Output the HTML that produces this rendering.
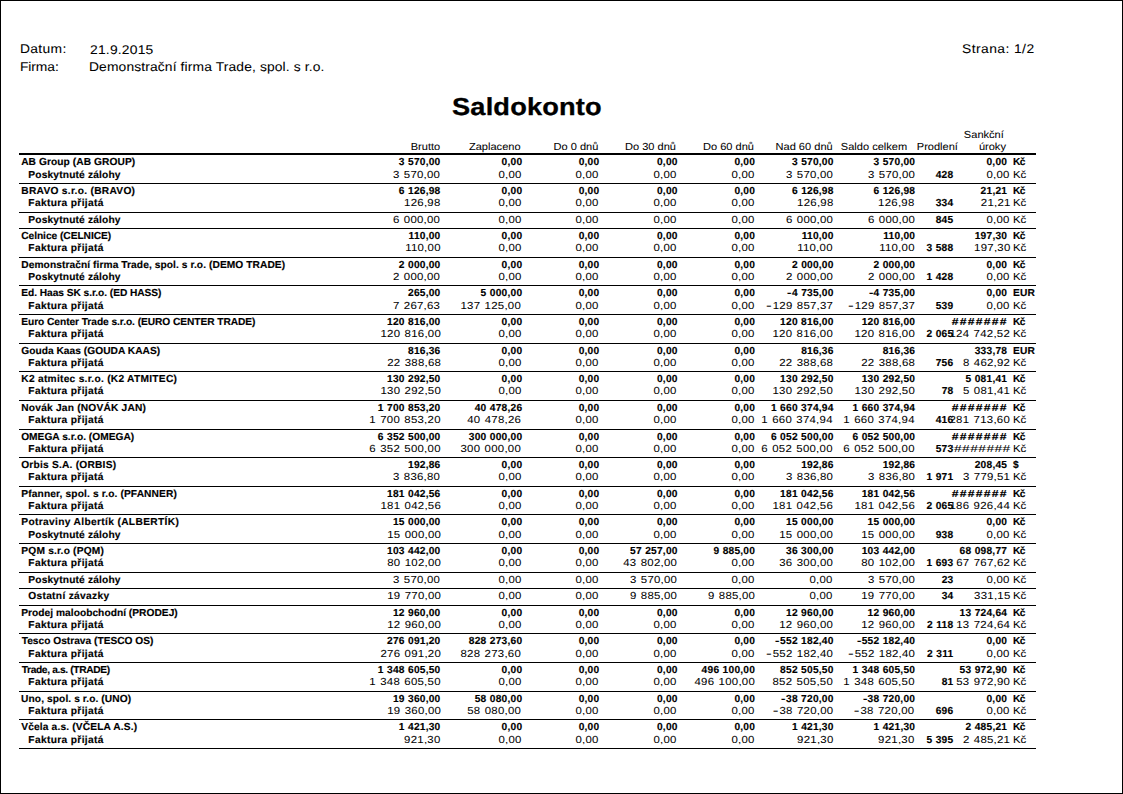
<!DOCTYPE html>
<html lang="cs"><head><meta charset="utf-8"><title>Saldokonto</title>
<style>
html,body{margin:0;padding:0;background:#fff}
body{text-rendering:geometricPrecision;width:1123px;height:794px;position:relative;overflow:hidden;font-family:"Liberation Sans",sans-serif;color:#000}
#pg{position:absolute;left:0;top:0;width:1121px;height:792px;border:1px solid #000}
span{position:absolute;white-space:pre;display:block}
.rn,.ch,.ph{-webkit-text-stroke:0.05px #000}
.tt{-webkit-text-stroke:0.3px #000}
.bl,.bn{-webkit-text-stroke:0.15px #000}
em{font-style:normal;display:inline-block;transform:scaleX(1.5);transform-origin:100% 50%;margin:0 .5px 0 1.1px}
.bn em{transform:scaleX(1.3);margin:0 .3px 0 .1px}
.L{transform-origin:0 50%}
.R{transform-origin:100% 50%}
i{position:absolute;left:19px;width:1017px;height:1px;background:#000;display:block}
i.k{height:2px}
#clip{position:absolute;left:951.5px;top:150px;width:60.5px;height:610px;overflow:hidden}
.bl{font-size:10.2px;font-weight:bold;line-height:12px;letter-spacing:0.08px;}
.bn{font-size:10.2px;font-weight:bold;line-height:12px;letter-spacing:0.22px;word-spacing:0.3px;}
.rn{font-size:10.2px;font-weight:normal;line-height:12px;letter-spacing:0.22px;word-spacing:0.8px;transform:scaleX(1.12)}
.ch{font-size:10.2px;font-weight:normal;line-height:12px;letter-spacing:0px;transform:scaleX(1.085)}
.ph{font-size:12.6px;font-weight:normal;line-height:16px;letter-spacing:0.1px;transform:scaleX(1.1)}
.tt{font-size:24.5px;font-weight:bold;line-height:30px;letter-spacing:0px;transform:scaleX(1.11)}
</style></head><body>
<div id="pg"></div>
<i class=k style="top:153px"></i>
<i style="top:183px"></i>
<i style="top:212px"></i>
<i style="top:228px"></i>
<i style="top:257px"></i>
<i style="top:285px"></i>
<i style="top:314px"></i>
<i style="top:343px"></i>
<i style="top:371px"></i>
<i style="top:400px"></i>
<i style="top:429px"></i>
<i style="top:457px"></i>
<i style="top:486px"></i>
<i style="top:514px"></i>
<i style="top:543px"></i>
<i style="top:572px"></i>
<i style="top:588px"></i>
<i style="top:605px"></i>
<i style="top:633px"></i>
<i style="top:662px"></i>
<i style="top:691px"></i>
<i style="top:719px"></i>
<i style="top:748px"></i>
<span class="ph L" style="left:19.6px;top:41px;letter-spacing:0.297px">Datum:</span>
<span class="ph L" style="left:90.3px;top:42px;letter-spacing:0.190px">21.9.2015</span>
<span class="ph L" style="left:19.6px;top:59px;letter-spacing:-0.085px">Firma:</span>
<span class="ph L" style="left:88.6px;top:59px;letter-spacing:0.107px">Demonstrační firma Trade, spol. s r.o.</span>
<span class="ph L" style="left:961.6px;top:41px;letter-spacing:0.394px">Strana: 1/2</span>
<span class="tt L" style="left:452.4px;top:93px;letter-spacing:0.164px">Saldokonto</span>
<span class="ch R" style="right:682.8px;top:142px">Brutto</span>
<span class="ch R" style="right:602.0px;top:142px">Zaplaceno</span>
<span class="ch R" style="right:525.0px;top:142px">Do 0 dnů</span>
<span class="ch R" style="right:446.5px;top:142px">Do 30 dnů</span>
<span class="ch R" style="right:368.5px;top:142px">Do 60 dnů</span>
<span class="ch R" style="right:290.7px;top:142px">Nad 60 dnů</span>
<span class="ch R" style="right:215.4px;top:142px">Saldo celkem</span>
<span class="ch R" style="right:165.2px;top:142px">Prodlení</span>
<span class="ch R" style="right:119.1px;top:130px">Sankční</span>
<span class="ch R" style="right:116.6px;top:142px">úroky</span>
<span class="bl L" style="left:21.2px;top:157px;letter-spacing:0.074px">AB Group (AB GROUP)</span>
<span class="bn R" style="right:682.5px;top:157px">3 570,00</span>
<span class="bn R" style="right:600.7px;top:157px">0,00</span>
<span class="bn R" style="right:523.6px;top:157px">0,00</span>
<span class="bn R" style="right:445.3px;top:157px">0,00</span>
<span class="bn R" style="right:367.9px;top:157px">0,00</span>
<span class="bn R" style="right:289.4px;top:157px">3 570,00</span>
<span class="bn R" style="right:207.8px;top:157px">3 570,00</span>
<span class="bn R" style="right:115.8px;top:157px">0,00</span>
<span class="bn L" style="left:1012.9px;top:157px;letter-spacing:-0.5px">Kč</span>
<span class="bl L" style="left:28.3px;top:170px;letter-spacing:0.172px">Poskytnuté zálohy</span>
<span class="rn R" style="right:682.4px;top:170px">3 570,00</span>
<span class="rn R" style="right:601.6px;top:170px">0,00</span>
<span class="rn R" style="right:524.7px;top:170px">0,00</span>
<span class="rn R" style="right:446.0px;top:170px">0,00</span>
<span class="rn R" style="right:368.2px;top:170px">0,00</span>
<span class="rn R" style="right:290.0px;top:170px">3 570,00</span>
<span class="rn R" style="right:208.2px;top:170px">3 570,00</span>
<span class="bn R" style="right:169.6px;top:170px">428</span>
<span class="rn L" style="left:1012.5px;top:170px;letter-spacing:-0.2px">Kč</span>
<span class="bl L" style="left:21.3px;top:186px;letter-spacing:0.284px">BRAVO s.r.o. (BRAVO)</span>
<span class="bn R" style="right:682.5px;top:186px">6 126,98</span>
<span class="bn R" style="right:600.7px;top:186px">0,00</span>
<span class="bn R" style="right:523.6px;top:186px">0,00</span>
<span class="bn R" style="right:445.3px;top:186px">0,00</span>
<span class="bn R" style="right:367.9px;top:186px">0,00</span>
<span class="bn R" style="right:289.4px;top:186px">6 126,98</span>
<span class="bn R" style="right:207.8px;top:186px">6 126,98</span>
<span class="bn R" style="right:115.8px;top:186px">21,21</span>
<span class="bn L" style="left:1012.9px;top:186px;letter-spacing:-0.5px">Kč</span>
<span class="bl L" style="left:28.3px;top:198px;letter-spacing:0.356px">Faktura přijatá</span>
<span class="rn R" style="right:682.4px;top:198px">126,98</span>
<span class="rn R" style="right:601.6px;top:198px">0,00</span>
<span class="rn R" style="right:524.7px;top:198px">0,00</span>
<span class="rn R" style="right:446.0px;top:198px">0,00</span>
<span class="rn R" style="right:368.2px;top:198px">0,00</span>
<span class="rn R" style="right:290.0px;top:198px">126,98</span>
<span class="rn R" style="right:208.2px;top:198px">126,98</span>
<span class="bn R" style="right:169.6px;top:198px">334</span>
<span class="rn L" style="left:1012.5px;top:198px;letter-spacing:-0.2px">Kč</span>
<span class="bl L" style="left:28.3px;top:215px;letter-spacing:0.172px">Poskytnuté zálohy</span>
<span class="rn R" style="right:682.4px;top:215px">6 000,00</span>
<span class="rn R" style="right:601.6px;top:215px">0,00</span>
<span class="rn R" style="right:524.7px;top:215px">0,00</span>
<span class="rn R" style="right:446.0px;top:215px">0,00</span>
<span class="rn R" style="right:368.2px;top:215px">0,00</span>
<span class="rn R" style="right:290.0px;top:215px">6 000,00</span>
<span class="rn R" style="right:208.2px;top:215px">6 000,00</span>
<span class="bn R" style="right:169.6px;top:215px">845</span>
<span class="rn L" style="left:1012.5px;top:215px;letter-spacing:-0.2px">Kč</span>
<span class="bl L" style="left:21.2px;top:231px;letter-spacing:-0.037px">Celnice (CELNICE)</span>
<span class="bn R" style="right:682.5px;top:231px">110,00</span>
<span class="bn R" style="right:600.7px;top:231px">0,00</span>
<span class="bn R" style="right:523.6px;top:231px">0,00</span>
<span class="bn R" style="right:445.3px;top:231px">0,00</span>
<span class="bn R" style="right:367.9px;top:231px">0,00</span>
<span class="bn R" style="right:289.4px;top:231px">110,00</span>
<span class="bn R" style="right:207.8px;top:231px">110,00</span>
<span class="bn R" style="right:115.8px;top:231px">197,30</span>
<span class="bn L" style="left:1012.9px;top:231px;letter-spacing:-0.5px">Kč</span>
<span class="bl L" style="left:28.3px;top:243px;letter-spacing:0.356px">Faktura přijatá</span>
<span class="rn R" style="right:682.4px;top:243px">110,00</span>
<span class="rn R" style="right:601.6px;top:243px">0,00</span>
<span class="rn R" style="right:524.7px;top:243px">0,00</span>
<span class="rn R" style="right:446.0px;top:243px">0,00</span>
<span class="rn R" style="right:368.2px;top:243px">0,00</span>
<span class="rn R" style="right:290.0px;top:243px">110,00</span>
<span class="rn R" style="right:208.2px;top:243px">110,00</span>
<span class="bn R" style="right:169.6px;top:243px">3 588</span>
<span class="rn L" style="left:1012.5px;top:243px;letter-spacing:-0.2px">Kč</span>
<span class="bl L" style="left:21.3px;top:260px;letter-spacing:0.080px">Demonstrační firma Trade, spol. s r.o. (DEMO TRADE)</span>
<span class="bn R" style="right:682.5px;top:260px">2 000,00</span>
<span class="bn R" style="right:600.7px;top:260px">0,00</span>
<span class="bn R" style="right:523.6px;top:260px">0,00</span>
<span class="bn R" style="right:445.3px;top:260px">0,00</span>
<span class="bn R" style="right:367.9px;top:260px">0,00</span>
<span class="bn R" style="right:289.4px;top:260px">2 000,00</span>
<span class="bn R" style="right:207.8px;top:260px">2 000,00</span>
<span class="bn R" style="right:115.8px;top:260px">0,00</span>
<span class="bn L" style="left:1012.9px;top:260px;letter-spacing:-0.5px">Kč</span>
<span class="bl L" style="left:28.3px;top:272px;letter-spacing:0.172px">Poskytnuté zálohy</span>
<span class="rn R" style="right:682.4px;top:272px">2 000,00</span>
<span class="rn R" style="right:601.6px;top:272px">0,00</span>
<span class="rn R" style="right:524.7px;top:272px">0,00</span>
<span class="rn R" style="right:446.0px;top:272px">0,00</span>
<span class="rn R" style="right:368.2px;top:272px">0,00</span>
<span class="rn R" style="right:290.0px;top:272px">2 000,00</span>
<span class="rn R" style="right:208.2px;top:272px">2 000,00</span>
<span class="bn R" style="right:169.6px;top:272px">1 428</span>
<span class="rn L" style="left:1012.5px;top:272px;letter-spacing:-0.2px">Kč</span>
<span class="bl L" style="left:21.3px;top:288px;letter-spacing:-0.050px">Ed. Haas SK s.r.o. (ED HASS)</span>
<span class="bn R" style="right:682.5px;top:288px">265,00</span>
<span class="bn R" style="right:600.7px;top:288px">5 000,00</span>
<span class="bn R" style="right:523.6px;top:288px">0,00</span>
<span class="bn R" style="right:445.3px;top:288px">0,00</span>
<span class="bn R" style="right:367.9px;top:288px">0,00</span>
<span class="bn R" style="right:289.4px;top:288px"><em>-</em>4 735,00</span>
<span class="bn R" style="right:207.8px;top:288px"><em>-</em>4 735,00</span>
<span class="bn R" style="right:115.8px;top:288px">0,00</span>
<span class="bn L" style="left:1012.9px;top:288px">EUR</span>
<span class="bl L" style="left:28.3px;top:301px;letter-spacing:0.356px">Faktura přijatá</span>
<span class="rn R" style="right:682.4px;top:301px">7 267,63</span>
<span class="rn R" style="right:601.6px;top:301px">137 125,00</span>
<span class="rn R" style="right:524.7px;top:301px">0,00</span>
<span class="rn R" style="right:446.0px;top:301px">0,00</span>
<span class="rn R" style="right:368.2px;top:301px">0,00</span>
<span class="rn R" style="right:290.0px;top:301px"><em>-</em>129 857,37</span>
<span class="rn R" style="right:208.2px;top:301px"><em>-</em>129 857,37</span>
<span class="bn R" style="right:169.6px;top:301px">539</span>
<span class="rn L" style="left:1012.5px;top:301px;letter-spacing:-0.2px">Kč</span>
<span class="bl L" style="left:21.3px;top:317px;letter-spacing:-0.056px">Euro Center Trade s.r.o. (EURO CENTER TRADE)</span>
<span class="bn R" style="right:682.5px;top:317px">120 816,00</span>
<span class="bn R" style="right:600.7px;top:317px">0,00</span>
<span class="bn R" style="right:523.6px;top:317px">0,00</span>
<span class="bn R" style="right:445.3px;top:317px">0,00</span>
<span class="bn R" style="right:367.9px;top:317px">0,00</span>
<span class="bn R" style="right:289.4px;top:317px">120 816,00</span>
<span class="bn R" style="right:207.8px;top:317px">120 816,00</span>
<span class="bn R" style="right:115.0px;top:317px;letter-spacing:1.0px;transform:scaleX(1.2)">#######</span>
<span class="bn L" style="left:1012.9px;top:317px;letter-spacing:-0.5px">Kč</span>
<span class="bl L" style="left:28.3px;top:329px;letter-spacing:0.356px">Faktura přijatá</span>
<span class="rn R" style="right:682.4px;top:329px">120 816,00</span>
<span class="rn R" style="right:601.6px;top:329px">0,00</span>
<span class="rn R" style="right:524.7px;top:329px">0,00</span>
<span class="rn R" style="right:446.0px;top:329px">0,00</span>
<span class="rn R" style="right:368.2px;top:329px">0,00</span>
<span class="rn R" style="right:290.0px;top:329px">120 816,00</span>
<span class="rn R" style="right:208.2px;top:329px">120 816,00</span>
<span class="bn R" style="right:169.6px;top:329px">2 065</span>
<span class="rn L" style="left:1012.5px;top:329px;letter-spacing:-0.2px">Kč</span>
<span class="bl L" style="left:21.2px;top:346px;letter-spacing:0.032px">Gouda Kaas (GOUDA KAAS)</span>
<span class="bn R" style="right:682.5px;top:346px">816,36</span>
<span class="bn R" style="right:600.7px;top:346px">0,00</span>
<span class="bn R" style="right:523.6px;top:346px">0,00</span>
<span class="bn R" style="right:445.3px;top:346px">0,00</span>
<span class="bn R" style="right:367.9px;top:346px">0,00</span>
<span class="bn R" style="right:289.4px;top:346px">816,36</span>
<span class="bn R" style="right:207.8px;top:346px">816,36</span>
<span class="bn R" style="right:115.8px;top:346px">333,78</span>
<span class="bn L" style="left:1012.9px;top:346px">EUR</span>
<span class="bl L" style="left:28.3px;top:358px;letter-spacing:0.356px">Faktura přijatá</span>
<span class="rn R" style="right:682.4px;top:358px">22 388,68</span>
<span class="rn R" style="right:601.6px;top:358px">0,00</span>
<span class="rn R" style="right:524.7px;top:358px">0,00</span>
<span class="rn R" style="right:446.0px;top:358px">0,00</span>
<span class="rn R" style="right:368.2px;top:358px">0,00</span>
<span class="rn R" style="right:290.0px;top:358px">22 388,68</span>
<span class="rn R" style="right:208.2px;top:358px">22 388,68</span>
<span class="bn R" style="right:169.6px;top:358px">756</span>
<span class="rn L" style="left:1012.5px;top:358px;letter-spacing:-0.2px">Kč</span>
<span class="bl L" style="left:21.3px;top:374px;letter-spacing:0.271px">K2 atmitec s.r.o. (K2 ATMITEC)</span>
<span class="bn R" style="right:682.5px;top:374px">130 292,50</span>
<span class="bn R" style="right:600.7px;top:374px">0,00</span>
<span class="bn R" style="right:523.6px;top:374px">0,00</span>
<span class="bn R" style="right:445.3px;top:374px">0,00</span>
<span class="bn R" style="right:367.9px;top:374px">0,00</span>
<span class="bn R" style="right:289.4px;top:374px">130 292,50</span>
<span class="bn R" style="right:207.8px;top:374px">130 292,50</span>
<span class="bn R" style="right:115.8px;top:374px">5 081,41</span>
<span class="bn L" style="left:1012.9px;top:374px;letter-spacing:-0.5px">Kč</span>
<span class="bl L" style="left:28.3px;top:386px;letter-spacing:0.356px">Faktura přijatá</span>
<span class="rn R" style="right:682.4px;top:386px">130 292,50</span>
<span class="rn R" style="right:601.6px;top:386px">0,00</span>
<span class="rn R" style="right:524.7px;top:386px">0,00</span>
<span class="rn R" style="right:446.0px;top:386px">0,00</span>
<span class="rn R" style="right:368.2px;top:386px">0,00</span>
<span class="rn R" style="right:290.0px;top:386px">130 292,50</span>
<span class="rn R" style="right:208.2px;top:386px">130 292,50</span>
<span class="bn R" style="right:169.6px;top:386px">78</span>
<span class="rn L" style="left:1012.5px;top:386px;letter-spacing:-0.2px">Kč</span>
<span class="bl L" style="left:21.3px;top:403px;letter-spacing:0.204px">Novák Jan (NOVÁK JAN)</span>
<span class="bn R" style="right:682.5px;top:403px">1 700 853,20</span>
<span class="bn R" style="right:600.7px;top:403px">40 478,26</span>
<span class="bn R" style="right:523.6px;top:403px">0,00</span>
<span class="bn R" style="right:445.3px;top:403px">0,00</span>
<span class="bn R" style="right:367.9px;top:403px">0,00</span>
<span class="bn R" style="right:289.4px;top:403px">1 660 374,94</span>
<span class="bn R" style="right:207.8px;top:403px">1 660 374,94</span>
<span class="bn R" style="right:115.0px;top:403px;letter-spacing:1.0px;transform:scaleX(1.2)">#######</span>
<span class="bn L" style="left:1012.9px;top:403px;letter-spacing:-0.5px">Kč</span>
<span class="bl L" style="left:28.3px;top:415px;letter-spacing:0.356px">Faktura přijatá</span>
<span class="rn R" style="right:682.4px;top:415px">1 700 853,20</span>
<span class="rn R" style="right:601.6px;top:415px">40 478,26</span>
<span class="rn R" style="right:524.7px;top:415px">0,00</span>
<span class="rn R" style="right:446.0px;top:415px">0,00</span>
<span class="rn R" style="right:368.2px;top:415px">0,00</span>
<span class="rn R" style="right:290.0px;top:415px">1 660 374,94</span>
<span class="rn R" style="right:208.2px;top:415px">1 660 374,94</span>
<span class="bn R" style="right:169.6px;top:415px">416</span>
<span class="rn L" style="left:1012.5px;top:415px;letter-spacing:-0.2px">Kč</span>
<span class="bl L" style="left:21.2px;top:432px;letter-spacing:0.010px">OMEGA s.r.o. (OMEGA)</span>
<span class="bn R" style="right:682.5px;top:432px">6 352 500,00</span>
<span class="bn R" style="right:600.7px;top:432px">300 000,00</span>
<span class="bn R" style="right:523.6px;top:432px">0,00</span>
<span class="bn R" style="right:445.3px;top:432px">0,00</span>
<span class="bn R" style="right:367.9px;top:432px">0,00</span>
<span class="bn R" style="right:289.4px;top:432px">6 052 500,00</span>
<span class="bn R" style="right:207.8px;top:432px">6 052 500,00</span>
<span class="bn R" style="right:115.0px;top:432px;letter-spacing:1.0px;transform:scaleX(1.2)">#######</span>
<span class="bn L" style="left:1012.9px;top:432px;letter-spacing:-0.5px">Kč</span>
<span class="bl L" style="left:28.3px;top:444px;letter-spacing:0.356px">Faktura přijatá</span>
<span class="rn R" style="right:682.4px;top:444px">6 352 500,00</span>
<span class="rn R" style="right:601.6px;top:444px">300 000,00</span>
<span class="rn R" style="right:524.7px;top:444px">0,00</span>
<span class="rn R" style="right:446.0px;top:444px">0,00</span>
<span class="rn R" style="right:368.2px;top:444px">0,00</span>
<span class="rn R" style="right:290.0px;top:444px">6 052 500,00</span>
<span class="rn R" style="right:208.2px;top:444px">6 052 500,00</span>
<span class="bn R" style="right:169.6px;top:444px">573</span>
<span class="rn L" style="left:1012.5px;top:444px;letter-spacing:-0.2px">Kč</span>
<span class="bl L" style="left:21.2px;top:460px;letter-spacing:0.220px">Orbis S.A. (ORBIS)</span>
<span class="bn R" style="right:682.5px;top:460px">192,86</span>
<span class="bn R" style="right:600.7px;top:460px">0,00</span>
<span class="bn R" style="right:523.6px;top:460px">0,00</span>
<span class="bn R" style="right:445.3px;top:460px">0,00</span>
<span class="bn R" style="right:367.9px;top:460px">0,00</span>
<span class="bn R" style="right:289.4px;top:460px">192,86</span>
<span class="bn R" style="right:207.8px;top:460px">192,86</span>
<span class="bn R" style="right:115.8px;top:460px">208,45</span>
<span class="bn L" style="left:1012.9px;top:460px">$</span>
<span class="bl L" style="left:28.3px;top:472px;letter-spacing:0.356px">Faktura přijatá</span>
<span class="rn R" style="right:682.4px;top:472px">3 836,80</span>
<span class="rn R" style="right:601.6px;top:472px">0,00</span>
<span class="rn R" style="right:524.7px;top:472px">0,00</span>
<span class="rn R" style="right:446.0px;top:472px">0,00</span>
<span class="rn R" style="right:368.2px;top:472px">0,00</span>
<span class="rn R" style="right:290.0px;top:472px">3 836,80</span>
<span class="rn R" style="right:208.2px;top:472px">3 836,80</span>
<span class="bn R" style="right:169.6px;top:472px">1 971</span>
<span class="rn L" style="left:1012.5px;top:472px;letter-spacing:-0.2px">Kč</span>
<span class="bl L" style="left:21.3px;top:489px;letter-spacing:0.130px">Pfanner, spol. s r.o. (PFANNER)</span>
<span class="bn R" style="right:682.5px;top:489px">181 042,56</span>
<span class="bn R" style="right:600.7px;top:489px">0,00</span>
<span class="bn R" style="right:523.6px;top:489px">0,00</span>
<span class="bn R" style="right:445.3px;top:489px">0,00</span>
<span class="bn R" style="right:367.9px;top:489px">0,00</span>
<span class="bn R" style="right:289.4px;top:489px">181 042,56</span>
<span class="bn R" style="right:207.8px;top:489px">181 042,56</span>
<span class="bn R" style="right:115.0px;top:489px;letter-spacing:1.0px;transform:scaleX(1.2)">#######</span>
<span class="bn L" style="left:1012.9px;top:489px;letter-spacing:-0.5px">Kč</span>
<span class="bl L" style="left:28.3px;top:501px;letter-spacing:0.356px">Faktura přijatá</span>
<span class="rn R" style="right:682.4px;top:501px">181 042,56</span>
<span class="rn R" style="right:601.6px;top:501px">0,00</span>
<span class="rn R" style="right:524.7px;top:501px">0,00</span>
<span class="rn R" style="right:446.0px;top:501px">0,00</span>
<span class="rn R" style="right:368.2px;top:501px">0,00</span>
<span class="rn R" style="right:290.0px;top:501px">181 042,56</span>
<span class="rn R" style="right:208.2px;top:501px">181 042,56</span>
<span class="bn R" style="right:169.6px;top:501px">2 065</span>
<span class="rn L" style="left:1012.5px;top:501px;letter-spacing:-0.2px">Kč</span>
<span class="bl L" style="left:21.3px;top:517px;letter-spacing:0.342px">Potraviny Albertík (ALBERTÍK)</span>
<span class="bn R" style="right:682.5px;top:517px">15 000,00</span>
<span class="bn R" style="right:600.7px;top:517px">0,00</span>
<span class="bn R" style="right:523.6px;top:517px">0,00</span>
<span class="bn R" style="right:445.3px;top:517px">0,00</span>
<span class="bn R" style="right:367.9px;top:517px">0,00</span>
<span class="bn R" style="right:289.4px;top:517px">15 000,00</span>
<span class="bn R" style="right:207.8px;top:517px">15 000,00</span>
<span class="bn R" style="right:115.8px;top:517px">0,00</span>
<span class="bn L" style="left:1012.9px;top:517px;letter-spacing:-0.5px">Kč</span>
<span class="bl L" style="left:28.3px;top:530px;letter-spacing:0.172px">Poskytnuté zálohy</span>
<span class="rn R" style="right:682.4px;top:530px">15 000,00</span>
<span class="rn R" style="right:601.6px;top:530px">0,00</span>
<span class="rn R" style="right:524.7px;top:530px">0,00</span>
<span class="rn R" style="right:446.0px;top:530px">0,00</span>
<span class="rn R" style="right:368.2px;top:530px">0,00</span>
<span class="rn R" style="right:290.0px;top:530px">15 000,00</span>
<span class="rn R" style="right:208.2px;top:530px">15 000,00</span>
<span class="bn R" style="right:169.6px;top:530px">938</span>
<span class="rn L" style="left:1012.5px;top:530px;letter-spacing:-0.2px">Kč</span>
<span class="bl L" style="left:21.3px;top:546px;letter-spacing:0.199px">PQM s.r.o (PQM)</span>
<span class="bn R" style="right:682.5px;top:546px">103 442,00</span>
<span class="bn R" style="right:600.7px;top:546px">0,00</span>
<span class="bn R" style="right:523.6px;top:546px">0,00</span>
<span class="bn R" style="right:445.3px;top:546px">57 257,00</span>
<span class="bn R" style="right:367.9px;top:546px">9 885,00</span>
<span class="bn R" style="right:289.4px;top:546px">36 300,00</span>
<span class="bn R" style="right:207.8px;top:546px">103 442,00</span>
<span class="bn R" style="right:115.8px;top:546px">68 098,77</span>
<span class="bn L" style="left:1012.9px;top:546px;letter-spacing:-0.5px">Kč</span>
<span class="bl L" style="left:28.3px;top:558px;letter-spacing:0.356px">Faktura přijatá</span>
<span class="rn R" style="right:682.4px;top:558px">80 102,00</span>
<span class="rn R" style="right:601.6px;top:558px">0,00</span>
<span class="rn R" style="right:524.7px;top:558px">0,00</span>
<span class="rn R" style="right:446.0px;top:558px">43 802,00</span>
<span class="rn R" style="right:368.2px;top:558px">0,00</span>
<span class="rn R" style="right:290.0px;top:558px">36 300,00</span>
<span class="rn R" style="right:208.2px;top:558px">80 102,00</span>
<span class="bn R" style="right:169.6px;top:558px">1 693</span>
<span class="rn L" style="left:1012.5px;top:558px;letter-spacing:-0.2px">Kč</span>
<span class="bl L" style="left:28.3px;top:575px;letter-spacing:0.172px">Poskytnuté zálohy</span>
<span class="rn R" style="right:682.4px;top:575px">3 570,00</span>
<span class="rn R" style="right:601.6px;top:575px">0,00</span>
<span class="rn R" style="right:524.7px;top:575px">0,00</span>
<span class="rn R" style="right:446.0px;top:575px">3 570,00</span>
<span class="rn R" style="right:368.2px;top:575px">0,00</span>
<span class="rn R" style="right:290.0px;top:575px">0,00</span>
<span class="rn R" style="right:208.2px;top:575px">3 570,00</span>
<span class="bn R" style="right:169.6px;top:575px">23</span>
<span class="rn L" style="left:1012.5px;top:575px;letter-spacing:-0.2px">Kč</span>
<span class="bl L" style="left:28.2px;top:591px;letter-spacing:0.322px">Ostatní závazky</span>
<span class="rn R" style="right:682.4px;top:591px">19 770,00</span>
<span class="rn R" style="right:601.6px;top:591px">0,00</span>
<span class="rn R" style="right:524.7px;top:591px">0,00</span>
<span class="rn R" style="right:446.0px;top:591px">9 885,00</span>
<span class="rn R" style="right:368.2px;top:591px">9 885,00</span>
<span class="rn R" style="right:290.0px;top:591px">0,00</span>
<span class="rn R" style="right:208.2px;top:591px">19 770,00</span>
<span class="bn R" style="right:169.6px;top:591px">34</span>
<span class="rn L" style="left:1012.5px;top:591px;letter-spacing:-0.2px">Kč</span>
<span class="bl L" style="left:21.3px;top:608px;letter-spacing:0.029px">Prodej maloobchodní (PRODEJ)</span>
<span class="bn R" style="right:682.5px;top:608px">12 960,00</span>
<span class="bn R" style="right:600.7px;top:608px">0,00</span>
<span class="bn R" style="right:523.6px;top:608px">0,00</span>
<span class="bn R" style="right:445.3px;top:608px">0,00</span>
<span class="bn R" style="right:367.9px;top:608px">0,00</span>
<span class="bn R" style="right:289.4px;top:608px">12 960,00</span>
<span class="bn R" style="right:207.8px;top:608px">12 960,00</span>
<span class="bn R" style="right:115.8px;top:608px">13 724,64</span>
<span class="bn L" style="left:1012.9px;top:608px;letter-spacing:-0.5px">Kč</span>
<span class="bl L" style="left:28.3px;top:620px;letter-spacing:0.356px">Faktura přijatá</span>
<span class="rn R" style="right:682.4px;top:620px">12 960,00</span>
<span class="rn R" style="right:601.6px;top:620px">0,00</span>
<span class="rn R" style="right:524.7px;top:620px">0,00</span>
<span class="rn R" style="right:446.0px;top:620px">0,00</span>
<span class="rn R" style="right:368.2px;top:620px">0,00</span>
<span class="rn R" style="right:290.0px;top:620px">12 960,00</span>
<span class="rn R" style="right:208.2px;top:620px">12 960,00</span>
<span class="bn R" style="right:169.6px;top:620px">2 118</span>
<span class="rn L" style="left:1012.5px;top:620px;letter-spacing:-0.2px">Kč</span>
<span class="bl L" style="left:21.7px;top:636px;letter-spacing:0.003px">Tesco Ostrava (TESCO OS)</span>
<span class="bn R" style="right:682.5px;top:636px">276 091,20</span>
<span class="bn R" style="right:600.7px;top:636px">828 273,60</span>
<span class="bn R" style="right:523.6px;top:636px">0,00</span>
<span class="bn R" style="right:445.3px;top:636px">0,00</span>
<span class="bn R" style="right:367.9px;top:636px">0,00</span>
<span class="bn R" style="right:289.4px;top:636px"><em>-</em>552 182,40</span>
<span class="bn R" style="right:207.8px;top:636px"><em>-</em>552 182,40</span>
<span class="bn R" style="right:115.8px;top:636px">0,00</span>
<span class="bn L" style="left:1012.9px;top:636px;letter-spacing:-0.5px">Kč</span>
<span class="bl L" style="left:28.3px;top:649px;letter-spacing:0.356px">Faktura přijatá</span>
<span class="rn R" style="right:682.4px;top:649px">276 091,20</span>
<span class="rn R" style="right:601.6px;top:649px">828 273,60</span>
<span class="rn R" style="right:524.7px;top:649px">0,00</span>
<span class="rn R" style="right:446.0px;top:649px">0,00</span>
<span class="rn R" style="right:368.2px;top:649px">0,00</span>
<span class="rn R" style="right:290.0px;top:649px"><em>-</em>552 182,40</span>
<span class="rn R" style="right:208.2px;top:649px"><em>-</em>552 182,40</span>
<span class="bn R" style="right:169.6px;top:649px">2 311</span>
<span class="rn L" style="left:1012.5px;top:649px;letter-spacing:-0.2px">Kč</span>
<span class="bl L" style="left:21.7px;top:665px;letter-spacing:-0.338px">Trade, a.s. (TRADE)</span>
<span class="bn R" style="right:682.5px;top:665px">1 348 605,50</span>
<span class="bn R" style="right:600.7px;top:665px">0,00</span>
<span class="bn R" style="right:523.6px;top:665px">0,00</span>
<span class="bn R" style="right:445.3px;top:665px">0,00</span>
<span class="bn R" style="right:367.9px;top:665px">496 100,00</span>
<span class="bn R" style="right:289.4px;top:665px">852 505,50</span>
<span class="bn R" style="right:207.8px;top:665px">1 348 605,50</span>
<span class="bn R" style="right:115.8px;top:665px">53 972,90</span>
<span class="bn L" style="left:1012.9px;top:665px;letter-spacing:-0.5px">Kč</span>
<span class="bl L" style="left:28.3px;top:677px;letter-spacing:0.356px">Faktura přijatá</span>
<span class="rn R" style="right:682.4px;top:677px">1 348 605,50</span>
<span class="rn R" style="right:601.6px;top:677px">0,00</span>
<span class="rn R" style="right:524.7px;top:677px">0,00</span>
<span class="rn R" style="right:446.0px;top:677px">0,00</span>
<span class="rn R" style="right:368.2px;top:677px">496 100,00</span>
<span class="rn R" style="right:290.0px;top:677px">852 505,50</span>
<span class="rn R" style="right:208.2px;top:677px">1 348 605,50</span>
<span class="bn R" style="right:169.6px;top:677px">81</span>
<span class="rn L" style="left:1012.5px;top:677px;letter-spacing:-0.2px">Kč</span>
<span class="bl L" style="left:21.1px;top:694px;letter-spacing:0.089px">Uno, spol. s r.o. (UNO)</span>
<span class="bn R" style="right:682.5px;top:694px">19 360,00</span>
<span class="bn R" style="right:600.7px;top:694px">58 080,00</span>
<span class="bn R" style="right:523.6px;top:694px">0,00</span>
<span class="bn R" style="right:445.3px;top:694px">0,00</span>
<span class="bn R" style="right:367.9px;top:694px">0,00</span>
<span class="bn R" style="right:289.4px;top:694px"><em>-</em>38 720,00</span>
<span class="bn R" style="right:207.8px;top:694px"><em>-</em>38 720,00</span>
<span class="bn R" style="right:115.8px;top:694px">0,00</span>
<span class="bn L" style="left:1012.9px;top:694px;letter-spacing:-0.5px">Kč</span>
<span class="bl L" style="left:28.3px;top:706px;letter-spacing:0.356px">Faktura přijatá</span>
<span class="rn R" style="right:682.4px;top:706px">19 360,00</span>
<span class="rn R" style="right:601.6px;top:706px">58 080,00</span>
<span class="rn R" style="right:524.7px;top:706px">0,00</span>
<span class="rn R" style="right:446.0px;top:706px">0,00</span>
<span class="rn R" style="right:368.2px;top:706px">0,00</span>
<span class="rn R" style="right:290.0px;top:706px"><em>-</em>38 720,00</span>
<span class="rn R" style="right:208.2px;top:706px"><em>-</em>38 720,00</span>
<span class="bn R" style="right:169.6px;top:706px">696</span>
<span class="rn L" style="left:1012.5px;top:706px;letter-spacing:-0.2px">Kč</span>
<span class="bl L" style="left:21.2px;top:722px;letter-spacing:0.155px">Včela a.s. (VČELA A.S.)</span>
<span class="bn R" style="right:682.5px;top:722px">1 421,30</span>
<span class="bn R" style="right:600.7px;top:722px">0,00</span>
<span class="bn R" style="right:523.6px;top:722px">0,00</span>
<span class="bn R" style="right:445.3px;top:722px">0,00</span>
<span class="bn R" style="right:367.9px;top:722px">0,00</span>
<span class="bn R" style="right:289.4px;top:722px">1 421,30</span>
<span class="bn R" style="right:207.8px;top:722px">1 421,30</span>
<span class="bn R" style="right:115.8px;top:722px">2 485,21</span>
<span class="bn L" style="left:1012.9px;top:722px;letter-spacing:-0.5px">Kč</span>
<span class="bl L" style="left:28.3px;top:735px;letter-spacing:0.356px">Faktura přijatá</span>
<span class="rn R" style="right:682.4px;top:735px">921,30</span>
<span class="rn R" style="right:601.6px;top:735px">0,00</span>
<span class="rn R" style="right:524.7px;top:735px">0,00</span>
<span class="rn R" style="right:446.0px;top:735px">0,00</span>
<span class="rn R" style="right:368.2px;top:735px">0,00</span>
<span class="rn R" style="right:290.0px;top:735px">921,30</span>
<span class="rn R" style="right:208.2px;top:735px">921,30</span>
<span class="bn R" style="right:169.6px;top:735px">5 395</span>
<span class="rn L" style="left:1012.5px;top:735px;letter-spacing:-0.2px">Kč</span>
<div id="clip">
<span class="rn R" style="right:1.8px;top:20px">0,00</span>
<span class="rn R" style="right:1.8px;top:48px">21,21</span>
<span class="rn R" style="right:1.8px;top:65px">0,00</span>
<span class="rn R" style="right:1.8px;top:93px">197,30</span>
<span class="rn R" style="right:1.8px;top:122px">0,00</span>
<span class="rn R" style="right:1.8px;top:151px">0,00</span>
<span class="rn R" style="right:1.8px;top:179px">124 742,52</span>
<span class="rn R" style="right:1.8px;top:208px">8 462,92</span>
<span class="rn R" style="right:1.8px;top:236px">5 081,41</span>
<span class="rn R" style="right:1.8px;top:265px">281 713,60</span>
<span class="rn R" style="right:1.7px;top:294px;letter-spacing:0.3px;transform:scaleX(1.36)">########</span>
<span class="rn R" style="right:1.8px;top:322px">3 779,51</span>
<span class="rn R" style="right:1.8px;top:351px">186 926,44</span>
<span class="rn R" style="right:1.8px;top:380px">0,00</span>
<span class="rn R" style="right:1.8px;top:408px">67 767,62</span>
<span class="rn R" style="right:1.8px;top:425px">0,00</span>
<span class="rn R" style="right:1.8px;top:441px">331,15</span>
<span class="rn R" style="right:1.8px;top:470px">13 724,64</span>
<span class="rn R" style="right:1.8px;top:499px">0,00</span>
<span class="rn R" style="right:1.8px;top:527px">53 972,90</span>
<span class="rn R" style="right:1.8px;top:556px">0,00</span>
<span class="rn R" style="right:1.8px;top:585px">2 485,21</span>
</div>
</body></html>
